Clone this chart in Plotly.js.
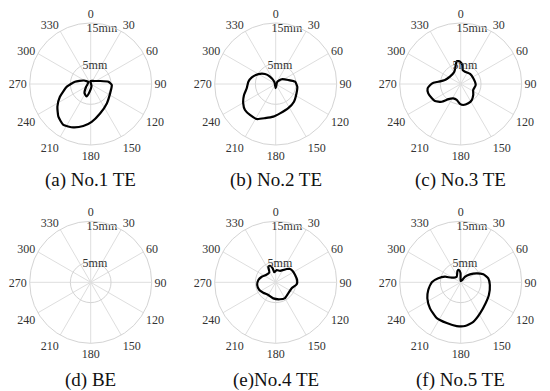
<!DOCTYPE html>
<html>
<head>
<meta charset="utf-8">
<script src="https://cdn.plot.ly/plotly-3.0.1.min.js"></script>
<style>html,body{margin:0;padding:0;background:#fff;}#chart{width:550px;height:391px;}</style>
</head>
<body>
<div id="chart"></div>
<script>
// ---- data (theta in degrees clockwise from north, r in mm) ----
var angleTicks = [0,30,60,90,120,150,180,210,240,270,300,330];
var angleLabels = ["0","30","60","90","120","150","180","210","240","270","300","330"];
var radialTicks = [5, 15];
var radialLabels = ["5mm", "15mm"];
var panelTitles = ["(a) No.1 TE", "(b) No.2 TE", "(c) No.3 TE", "(d) BE", "(e)No.4 TE", "(f) No.5 TE"];

var thetaA = [356,158,188.5,198.6,214.6,237.4,312.3,297.6,278.3,263.6,247.5,235.8,224.7,213.8,201.9,190,178.5,162.4,140.3,115.7,92.7,82.6,72.1,47.7,356];
var rA     = [0.74,0.53,2.0,3.24,2.69,1.37,0.73,1.86,3.9,5.9,8.2,9.9,11.3,12.1,11.5,10.5,9.3,7.6,6.2,5.3,5.2,4.4,2.4,1.1,0.74];

var thetaB = [180,328.7,322,313.1,299.9,285.6,274.8,261.6,250.9,239.2,229.7,219.7,208.5,197.3,184.2,171.7,152.6,134,113.9,97.1,83.2,72.4,52,34.8,180];
var rB     = [1.05,0.66,2.3,3.6,4.9,6.1,6.75,7.2,8.25,9.3,9.9,9.9,9.8,8.8,8.05,7.3,6.7,6.25,5.6,5.35,4.8,3.25,1.9,0.7,1.05];

var thetaC = [350.1,358.2,4.8,8.1,19.3,42.9,65.7,93.8,115.5,131.1,145.5,158.5,172.9,182,194,207.4,219,227,236.5,243.7,254,262.6,268.1,272.7,275.9,284.3,304.3,332.5,345.3,350.1];
var rC     = [5.7,5.5,4.7,3.5,3.2,3.4,3.4,3.7,3.4,4.1,4.8,5.1,5.2,4.9,4.05,4.0,4.8,6.4,7.6,7.9,8.3,8.2,7.5,6.7,5.5,4.0,3.2,3.4,4.8,5.7];

var thetaD = [];
var rD     = [];

var thetaE = [334.6,327.4,307,291.8,277.5,261.7,244.8,230,210.2,188.5,165.8,149.8,131.1,110.6,95.4,83.9,69.3,56.4,47.1,39.6,31.7,20.8,4.6,352,347.9,341,334.6];
var rE     = [4.25,2.9,3.0,3.7,4.3,4.6,4.45,4.0,3.6,4.0,4.3,4.5,4.1,4.2,5.2,5.3,5.1,5.0,4.8,4.25,3.55,3.0,3.0,2.5,3.5,4.3,4.25];

var thetaF = [324.5,344.2,352.1,358.8,0,34.8,37.5,49.3,60.6,70.5,81.8,95.3,114.2,130,148.1,162.3,174.4,185.2,198.9,213.7,229.7,244.4,256.6,270,280.1,289.6,297.1,324.5];
var rF     = [1.7,2.9,3.05,2.3,0.3,0.7,1.7,3.0,4.5,5.9,6.85,7.2,7.6,8.0,9.0,10.2,10.8,10.8,10.6,10.6,9.9,9.1,8.2,7.1,5.6,4.1,2.5,1.7];

var series = [[thetaA,rA],[thetaB,rB],[thetaC,rC],[thetaD,rD],[thetaE,rE],[thetaF,rF]];

// ---- layout geometry and styles (pixels) ----
var W = 550, H = 391, R = 61;
var centers = [[90.7,84],[275.7,84],[460.7,84],[90.7,282.3],[275.7,282.3],[460.7,282.3]];
var titleY = [180,180,180,380,380,380];
var labelR = [4.6, 13.9];      // where the radial labels sit
var labelTheta = [13, 11.5];
var serif = "'Liberation Serif'";

var data = [], layout = {
  width: W, height: H, margin: {l:0,r:0,t:0,b:0},
  paper_bgcolor: "#fff", showlegend: false, annotations: [],
  font: {family: serif}
};

for (var i = 0; i < 6; i++) {
  var key = i === 0 ? "polar" : "polar" + (i + 1);
  var cx = centers[i][0], cy = centers[i][1];
  layout[key] = {
    domain: {x: [(cx - R) / W, (cx + R) / W], y: [(H - cy - R) / H, (H - cy + R) / H]},
    bgcolor: "#fff",
    angularaxis: {
      rotation: 90, direction: "clockwise",
      tickmode: "array", tickvals: angleTicks, ticktext: angleLabels,
      showline: true, linecolor: "#d4d4d4", linewidth: 1,
      showgrid: true, gridcolor: "#dedede", gridwidth: 1,
      ticks: "", tickfont: {family: serif, size: 12, color: "#333"}
    },
    radialaxis: {
      range: [0, 15], tickmode: "array", tickvals: radialTicks,
      showticklabels: false, showline: false, ticks: "",
      showgrid: true, gridcolor: "#d4d4d4", gridwidth: 1
    }
  };
  data.push({
    type: "scatterpolar", subplot: key, mode: "lines",
    theta: series[i][0], r: series[i][1],
    line: {color: "#000", width: 2.2, shape: "spline", smoothing: 0.5},
    hoverinfo: "skip"
  });
  data.push({
    type: "scatterpolar", subplot: key, mode: "text",
    r: labelR, theta: labelTheta, text: radialLabels,
    textposition: "middle center",
    textfont: {family: serif, size: 12, color: "#333"},
    hoverinfo: "skip"
  });
  layout.annotations.push({
    xref: "paper", yref: "paper", x: cx / W, y: (H - titleY[i]) / H,
    xanchor: "center", yanchor: "middle", showarrow: false,
    text: panelTitles[i], font: {family: serif, size: 19, color: "#111"}
  });
}

Plotly.newPlot("chart", data, layout, {staticPlot: true});
</script>
</body>
</html>
